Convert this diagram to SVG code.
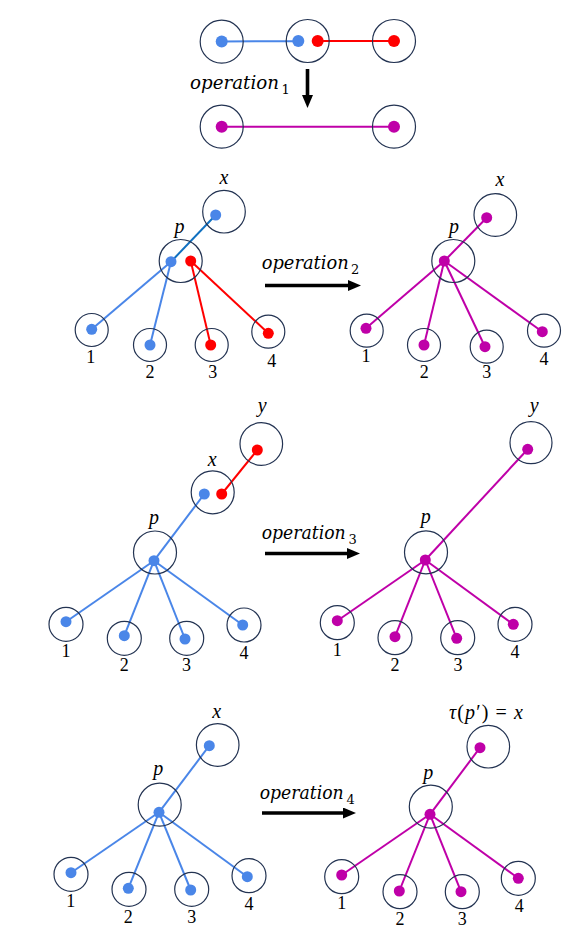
<svg xmlns="http://www.w3.org/2000/svg" width="570" height="934" viewBox="0 0 570 934">
<defs>
<style>
.ring{fill:none;stroke:#233352;stroke-width:1.2}
.db{fill:#4A86E8}
.dr{fill:#FF0000}
.dm{fill:#BF00A8}
.lb{stroke:#4A86E8;stroke-width:2;fill:none}
.ld{stroke:#1070C0;stroke-width:2;fill:none}
.lr{stroke:#FF0000;stroke-width:2;fill:none}
.lm{stroke:#BF00A8;stroke-width:2;fill:none}
.arr{stroke:#000;stroke-width:3.6;fill:none}
.var{font-family:"Liberation Serif","DejaVu Serif",serif;font-style:italic;font-size:20px;fill:#000;text-anchor:middle}
.num{font-family:"Liberation Serif","DejaVu Serif",serif;font-size:18px;fill:#000;text-anchor:middle}
.op{font-family:"DejaVu Serif",serif;font-style:italic;font-size:18px;fill:#000}
.sub{font-family:"DejaVu Serif",serif;font-size:13px;fill:#000}
</style>
<marker id="ah" markerUnits="userSpaceOnUse" markerWidth="14" markerHeight="12" refX="3" refY="5.5" orient="auto" viewBox="0 0 14 12">
<path d="M0,0 L13,5.5 L0,11 Z" fill="#000"/>
</marker>
</defs>

<g id="connectors">
<line class="lb" x1="221.7" y1="41.4" x2="298.3" y2="41.2"/>
<line class="lr" x1="317.7" y1="41" x2="394" y2="41"/>
<line class="lm" x1="221.7" y1="126.7" x2="394" y2="126.7"/>
<line class="arr" x1="307.5" y1="69" x2="307.5" y2="98" marker-end="url(#ah)"/>
<line class="ld" x1="171" y1="261.7" x2="215.7" y2="215"/>
<line class="lb" x1="171" y1="261.7" x2="91.7" y2="329.3"/>
<line class="lb" x1="171" y1="261.7" x2="150" y2="345"/>
<line class="lr" x1="190.7" y1="261" x2="210.7" y2="345"/>
<line class="lr" x1="190.7" y1="261" x2="268.3" y2="333.3"/>
<line class="arr" x1="265" y1="285.5" x2="351" y2="285.5" marker-end="url(#ah)"/>
<line class="lm" x1="444.3" y1="261" x2="486.7" y2="217.7"/>
<line class="lm" x1="444.3" y1="261" x2="366" y2="328.3"/>
<line class="lm" x1="444.3" y1="261" x2="424" y2="345"/>
<line class="lm" x1="444.3" y1="261" x2="485" y2="346.7"/>
<line class="lm" x1="444.3" y1="261" x2="542.3" y2="331.7"/>
<line class="lr" x1="221.7" y1="494" x2="257.3" y2="450"/>
<line class="lb" x1="154" y1="560.7" x2="204.3" y2="494"/>
<line class="lb" x1="154" y1="560.7" x2="66" y2="621.7"/>
<line class="lb" x1="154" y1="560.7" x2="124.3" y2="635.7"/>
<line class="lb" x1="154" y1="560.7" x2="185" y2="639"/>
<line class="lb" x1="154" y1="560.7" x2="242.7" y2="625"/>
<line class="arr" x1="265" y1="553.5" x2="350" y2="553.5" marker-end="url(#ah)"/>
<line class="lm" x1="425.3" y1="560" x2="527.7" y2="449.3"/>
<line class="lm" x1="425.3" y1="560" x2="337.3" y2="620.7"/>
<line class="lm" x1="425.3" y1="560" x2="395" y2="636.7"/>
<line class="lm" x1="425.3" y1="560" x2="456.7" y2="638.3"/>
<line class="lm" x1="425.3" y1="560" x2="513.3" y2="624.3"/>
<line class="lb" x1="159" y1="812.3" x2="209.3" y2="745.7"/>
<line class="lb" x1="159" y1="812.3" x2="71" y2="872.7"/>
<line class="lb" x1="159" y1="812.3" x2="128.3" y2="888.3"/>
<line class="lb" x1="159" y1="812.3" x2="190.7" y2="890"/>
<line class="lb" x1="159" y1="812.3" x2="247.3" y2="876.7"/>
<line class="arr" x1="262" y1="813" x2="346" y2="813" marker-end="url(#ah)"/>
<line class="lm" x1="430" y1="814.3" x2="480" y2="747.7"/>
<line class="lm" x1="430" y1="814.3" x2="341.7" y2="875"/>
<line class="lm" x1="430" y1="814.3" x2="399.3" y2="891"/>
<line class="lm" x1="430" y1="814.3" x2="461" y2="891.7"/>
<line class="lm" x1="430" y1="814.3" x2="518.3" y2="878.3"/>
</g>

<g id="labels">
<text class="op" x="190" y="89" textLength="89" lengthAdjust="spacingAndGlyphs">operation</text><text class="sub" x="281.5" y="93.5">1</text>
<text class="op" x="261.7" y="268.5" textLength="87" lengthAdjust="spacingAndGlyphs">operation</text><text class="sub" x="351" y="274">2</text>
<text class="op" x="261.7" y="538.7" textLength="84" lengthAdjust="spacingAndGlyphs">operation</text><text class="sub" x="348.5" y="544">3</text>
<text class="op" x="259.7" y="798.5" textLength="84" lengthAdjust="spacingAndGlyphs">operation</text><text class="sub" x="346.5" y="804">4</text>
</g>

<g id="s1-a"><circle class="ring" cx="221.7" cy="41.7" r="21.5"/><circle class="db" cx="221.7" cy="41.5" r="6"/></g>
<g id="s1-b"><circle class="ring" cx="307.7" cy="41" r="21.5"/><circle class="db" cx="298.3" cy="41" r="6"/><circle class="dr" cx="317.7" cy="41" r="6"/></g>
<g id="s1-c"><circle class="ring" cx="394" cy="41" r="21.5"/><circle class="dr" cx="394" cy="41" r="6"/></g>
<g id="s1-d"><circle class="ring" cx="221.7" cy="126.7" r="21.5"/><circle class="dm" cx="221.7" cy="126.7" r="6"/></g>
<g id="s1-e"><circle class="ring" cx="394" cy="126.7" r="21.5"/><circle class="dm" cx="394" cy="126.7" r="6"/></g>

<g id="s2l-x"><circle class="ring" cx="224" cy="211.7" r="21.3"/><circle class="db" cx="215.7" cy="215" r="5.5"/><text class="var" x="224" y="183.5">x</text></g>
<g id="s2l-p"><circle class="ring" cx="180.7" cy="261" r="21.5"/><circle class="db" cx="171" cy="261.7" r="5.5"/><circle class="dr" cx="190.7" cy="261" r="5.5"/><text class="var" x="179.5" y="233">p</text></g>
<g id="s2l-1"><circle class="ring" cx="91.7" cy="330" r="16.5"/><circle class="db" cx="91.7" cy="329.3" r="5.5"/><text class="num" x="90.7" y="363">1</text></g>
<g id="s2l-2"><circle class="ring" cx="150" cy="345" r="16.5"/><circle class="db" cx="150" cy="345" r="5.5"/><text class="num" x="150" y="378">2</text></g>
<g id="s2l-3"><circle class="ring" cx="211.7" cy="345" r="16.5"/><circle class="dr" cx="210.7" cy="345" r="5.5"/><text class="num" x="212.7" y="378">3</text></g>
<g id="s2l-4"><circle class="ring" cx="268.3" cy="331.7" r="16.5"/><circle class="dr" cx="268.3" cy="333.3" r="5.5"/><text class="num" x="271.7" y="367">4</text></g>

<g id="s2r-x"><circle class="ring" cx="495.3" cy="215" r="21.3"/><circle class="dm" cx="486.7" cy="217.7" r="5.5"/><text class="var" x="500" y="185.5">x</text></g>
<g id="s2r-p"><circle class="ring" cx="453.3" cy="261" r="21.5"/><circle class="dm" cx="444.3" cy="261" r="5.5"/><text class="var" x="454" y="233">p</text></g>
<g id="s2r-1"><circle class="ring" cx="366.7" cy="330.7" r="16.5"/><circle class="dm" cx="366" cy="328.3" r="5.5"/><text class="num" x="366" y="362">1</text></g>
<g id="s2r-2"><circle class="ring" cx="424" cy="345" r="16.5"/><circle class="dm" cx="424" cy="345" r="5.5"/><text class="num" x="424.3" y="378">2</text></g>
<g id="s2r-3"><circle class="ring" cx="486.7" cy="346.7" r="16.5"/><circle class="dm" cx="485" cy="346.7" r="5.5"/><text class="num" x="486.7" y="378">3</text></g>
<g id="s2r-4"><circle class="ring" cx="544" cy="330.7" r="16.5"/><circle class="dm" cx="542.3" cy="331.7" r="5.5"/><text class="num" x="544" y="365">4</text></g>

<g id="s3l-y"><circle class="ring" cx="261.3" cy="444" r="21.3"/><circle class="dr" cx="257.3" cy="450" r="5.5"/><text class="var" x="262.3" y="412">y</text></g>
<g id="s3l-x"><circle class="ring" cx="212.7" cy="492.3" r="21.5"/><circle class="db" cx="204.3" cy="494" r="5.5"/><circle class="dr" cx="221.7" cy="494" r="5.5"/><text class="var" x="212.3" y="466">x</text></g>
<g id="s3l-p"><circle class="ring" cx="155" cy="552.5" r="21.5"/><circle class="db" cx="154" cy="560.7" r="5.5"/><text class="var" x="154" y="524">p</text></g>
<g id="s3l-1"><circle class="ring" cx="66" cy="624.3" r="17"/><circle class="db" cx="66" cy="621.7" r="5.5"/><text class="num" x="66" y="657">1</text></g>
<g id="s3l-2"><circle class="ring" cx="124.3" cy="638.3" r="17"/><circle class="db" cx="124.3" cy="635.7" r="5.5"/><text class="num" x="124.3" y="671">2</text></g>
<g id="s3l-3"><circle class="ring" cx="186.7" cy="638.3" r="17"/><circle class="db" cx="185" cy="639" r="5.5"/><text class="num" x="186.5" y="671">3</text></g>
<g id="s3l-4"><circle class="ring" cx="244" cy="625" r="17"/><circle class="db" cx="242.7" cy="625" r="5.5"/><text class="num" x="244" y="659">4</text></g>

<g id="s3r-y"><circle class="ring" cx="531" cy="442.7" r="21"/><circle class="dm" cx="527.7" cy="449.3" r="5.5"/><text class="var" x="534.3" y="412">y</text></g>
<g id="s3r-p"><circle class="ring" cx="426" cy="552.3" r="21.5"/><circle class="dm" cx="425.3" cy="560" r="5.5"/><text class="var" x="425.7" y="523">p</text></g>
<g id="s3r-1"><circle class="ring" cx="337.3" cy="622.7" r="17"/><circle class="dm" cx="337.3" cy="620.7" r="5.5"/><text class="num" x="337.3" y="656">1</text></g>
<g id="s3r-2"><circle class="ring" cx="395" cy="637.7" r="17"/><circle class="dm" cx="395" cy="636.7" r="5.5"/><text class="num" x="395" y="671">2</text></g>
<g id="s3r-3"><circle class="ring" cx="457.7" cy="637.7" r="17"/><circle class="dm" cx="456.7" cy="638.3" r="5.5"/><text class="num" x="458" y="671">3</text></g>
<g id="s3r-4"><circle class="ring" cx="515" cy="624.3" r="17"/><circle class="dm" cx="513.3" cy="624.3" r="5.5"/><text class="num" x="515" y="658">4</text></g>

<g id="s4l-x"><circle class="ring" cx="217.7" cy="745" r="21.3"/><circle class="db" cx="209.3" cy="745.7" r="5.5"/><text class="var" x="216.7" y="718">x</text></g>
<g id="s4l-p"><circle class="ring" cx="159.7" cy="804.7" r="21.5"/><circle class="db" cx="159" cy="812.3" r="5.5"/><text class="var" x="158.3" y="775">p</text></g>
<g id="s4l-1"><circle class="ring" cx="71" cy="874.3" r="17"/><circle class="db" cx="71" cy="872.7" r="5.5"/><text class="num" x="70.7" y="907">1</text></g>
<g id="s4l-2"><circle class="ring" cx="129" cy="889.3" r="17"/><circle class="db" cx="128.3" cy="888.3" r="5.5"/><text class="num" x="128.3" y="922.5">2</text></g>
<g id="s4l-3"><circle class="ring" cx="191.7" cy="889.3" r="17"/><circle class="db" cx="190.7" cy="890" r="5.5"/><text class="num" x="191.7" y="922.5">3</text></g>
<g id="s4l-4"><circle class="ring" cx="249" cy="875.7" r="17"/><circle class="db" cx="247.3" cy="876.7" r="5.5"/><text class="num" x="249" y="910">4</text></g>

<g id="s4r-x"><circle class="ring" cx="488.3" cy="746.7" r="21.3"/><circle class="dm" cx="480" cy="747.7" r="5.5"/><text class="var" x="486" y="718.5" textLength="74" lengthAdjust="spacing">τ<tspan font-style="normal">(</tspan>p<tspan font-style="normal">′) = </tspan>x</text></g>
<g id="s4r-p"><circle class="ring" cx="430.8" cy="806.7" r="21.5"/><circle class="dm" cx="430" cy="814.3" r="5.5"/><text class="var" x="428.3" y="779">p</text></g>
<g id="s4r-1"><circle class="ring" cx="341.7" cy="876.7" r="17"/><circle class="dm" cx="341.7" cy="875" r="5.5"/><text class="num" x="341.7" y="909">1</text></g>
<g id="s4r-2"><circle class="ring" cx="400" cy="891.7" r="17"/><circle class="dm" cx="399.3" cy="891" r="5.5"/><text class="num" x="400" y="925">2</text></g>
<g id="s4r-3"><circle class="ring" cx="462.3" cy="891.7" r="17"/><circle class="dm" cx="461" cy="891.7" r="5.5"/><text class="num" x="462.3" y="925">3</text></g>
<g id="s4r-4"><circle class="ring" cx="518.3" cy="878.3" r="17"/><circle class="dm" cx="518.3" cy="878.3" r="5.5"/><text class="num" x="519.3" y="912">4</text></g>
</svg>
